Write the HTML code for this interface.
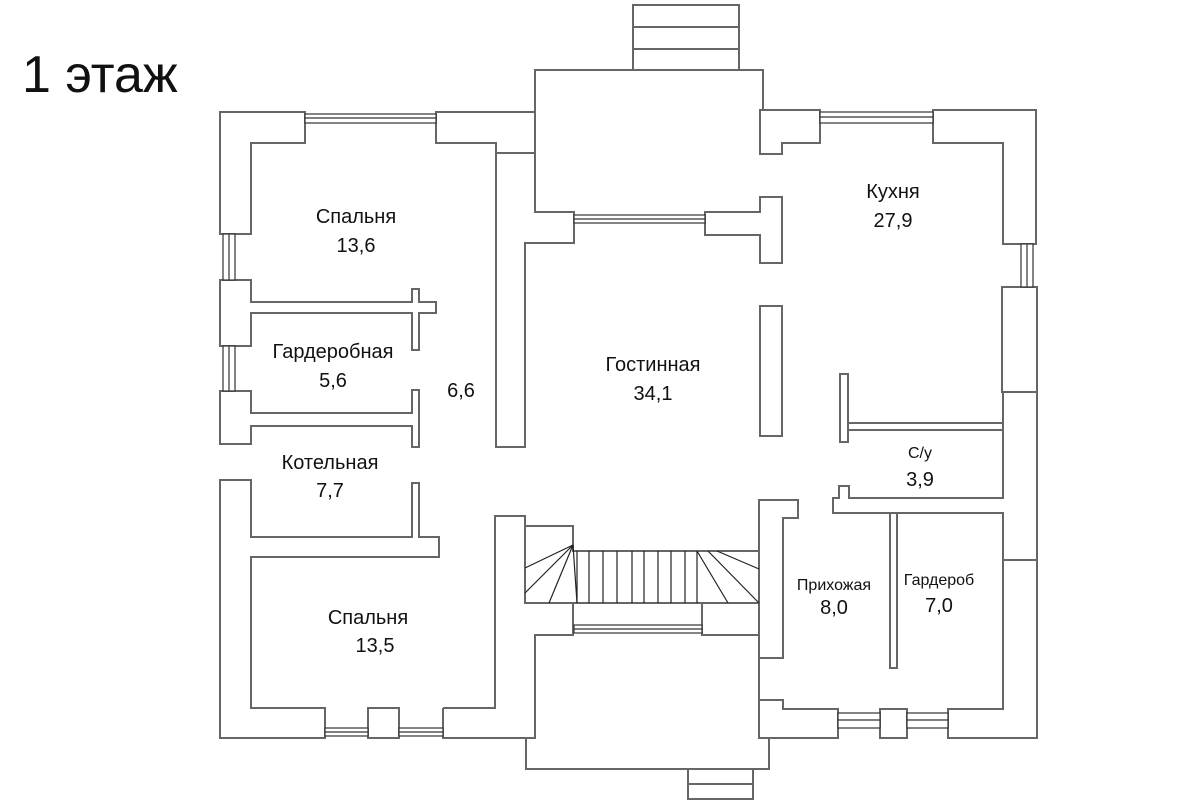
<!DOCTYPE html>
<html><head><meta charset="utf-8"><style>
html,body{margin:0;padding:0;background:#fff;}
svg{display:block;}
text{font-family:"Liberation Sans",sans-serif;fill:#111;}
</style></head><body>
<svg width="1200" height="800" viewBox="0 0 1200 800" xmlns="http://www.w3.org/2000/svg">
<g fill="none" stroke="#666" stroke-width="2" stroke-linejoin="miter">
<rect x="633" y="5" width="106" height="65"/>
<line x1="633" y1="27" x2="739" y2="27"/><line x1="633" y1="49" x2="739" y2="49"/>
<path d="M535,112 V70 H763 V110"/>
<path d="M220,112 H305 V143 H251 V234 H220 Z"/>
<path d="M436,112 H535 V212 H574 V243 H525 V447 H496 V143 H436 Z"/>
<path d="M496,153 H535"/>
<path d="M705,212 H760 V197 H782 V263 H760 V235 H705 Z"/>
<path d="M760,110 H820 V143 H782 V154 H760 Z"/>
<path d="M933,110 H1036 V244 H1003 V143 H933 Z"/>
<rect x="1002" y="287" width="35" height="105"/>
<path d="M1003,392 V498 H849 V486 H839 V498 H833 V513 H1003 V709 H948 V738 H1037 V392"/>
<line x1="1003" y1="560" x2="1037" y2="560"/>
<rect x="890" y="513" width="7" height="155"/>
<rect x="760" y="306" width="22" height="130"/>
<rect x="840" y="374" width="8" height="68"/>
<path d="M848,423 H1003 M848,430 H1003"/>
<path d="M759,500 H798 V518 H783 V658 H759 Z"/>
<path d="M759,700 H783 V709 H838 V738 H759 Z"/>
<rect x="880" y="709" width="27" height="29"/>
<path d="M769,738 V769 H526 V738"/>
<rect x="688" y="769" width="65" height="30"/><line x1="688" y1="784" x2="753" y2="784"/>
<path d="M443,708 H495 V516 H525 V603 M443,708 V738 H535 V635 H573 V603"/>
<path d="M702,603 V635 H759 V738"/>
<path d="M525,516 V603 H759 V551 H573 V526 H525"/>
<line x1="573" y1="526" x2="573" y2="545"/>
<g stroke="#222" stroke-width="1.2">
<line x1="577" y1="551" x2="577" y2="603"/><line x1="589" y1="551" x2="589" y2="603"/>
<line x1="603" y1="551" x2="603" y2="603"/><line x1="617" y1="551" x2="617" y2="603"/>
<line x1="632" y1="551" x2="632" y2="603"/><line x1="644" y1="551" x2="644" y2="603"/>
<line x1="658" y1="551" x2="658" y2="603"/><line x1="671" y1="551" x2="671" y2="603"/>
<line x1="685" y1="551" x2="685" y2="603"/><line x1="697" y1="551" x2="697" y2="603"/>
<line x1="573" y1="545" x2="525" y2="568"/><line x1="573" y1="545" x2="525" y2="593"/>
<line x1="573" y1="545" x2="549" y2="603"/><line x1="573" y1="545" x2="577" y2="603"/>
<line x1="697" y1="551" x2="728" y2="603"/><line x1="708" y1="551" x2="759" y2="603"/>
<line x1="717" y1="551" x2="759" y2="569"/>
</g>
<path d="M220,280 H251 V302 H412 V289 H419 V302 H436 V313 H419 V350 H412 V313 H251 V346 H220 Z"/>
<path d="M220,391 H251 V413 H412 V390 H419 V447 H412 V426 H251 V444 H220 Z"/>
<path d="M220,480 H251 V537 H412 V483 H419 V537 H439 V557 H251 V708 H325 V738 H220 Z"/>
<rect x="368" y="708" width="31" height="30"/>
</g>
<g fill="#fff" stroke="#333" stroke-width="1.2">
<rect x="305" y="114" width="131" height="9"/><line x1="305" y1="118" x2="436" y2="118"/>
<rect x="574" y="215" width="131" height="8"/><line x1="574" y1="219" x2="705" y2="219"/>
<rect x="820" y="112" width="113" height="11"/><line x1="820" y1="117" x2="933" y2="117"/>
<rect x="1021" y="244" width="12" height="43"/><line x1="1027" y1="244" x2="1027" y2="287"/>
<rect x="223" y="234" width="12" height="46"/><line x1="229" y1="234" x2="229" y2="280"/>
<rect x="223" y="346" width="12" height="45"/><line x1="229" y1="346" x2="229" y2="391"/>
<rect x="325" y="728" width="43" height="8"/><line x1="325" y1="732" x2="368" y2="732"/>
<rect x="399" y="728" width="44" height="8"/><line x1="399" y1="732" x2="443" y2="732"/>
<rect x="574" y="625" width="128" height="8"/><line x1="574" y1="629" x2="702" y2="629"/>
<rect x="838" y="713" width="42" height="15"/><line x1="838" y1="720" x2="880" y2="720"/>
<rect x="907" y="713" width="41" height="15"/><line x1="907" y1="720" x2="948" y2="720"/>
</g>
<text x="22" y="92" font-size="52">1 этаж</text>
<g font-size="20" text-anchor="middle">
<text x="356" y="223">Спальня</text><text x="356" y="252">13,6</text>
<text x="333" y="358">Гардеробная</text><text x="333" y="387">5,6</text>
<text x="461" y="397">6,6</text>
<text x="330" y="469">Котельная</text><text x="330" y="497">7,7</text>
<text x="368" y="624">Спальня</text><text x="375" y="652">13,5</text>
<text x="653" y="371">Гостинная</text><text x="653" y="400">34,1</text>
<text x="893" y="198">Кухня</text><text x="893" y="227">27,9</text>
<text x="920" y="486">3,9</text>
<text x="834" y="614">8,0</text>
<text x="939" y="612">7,0</text>
</g>
<g font-size="16" text-anchor="middle">
<text x="920" y="458">С/у</text>
<text x="834" y="590">Прихожая</text>
<text x="939" y="585">Гардероб</text>
</g>
</svg>
</body></html>
